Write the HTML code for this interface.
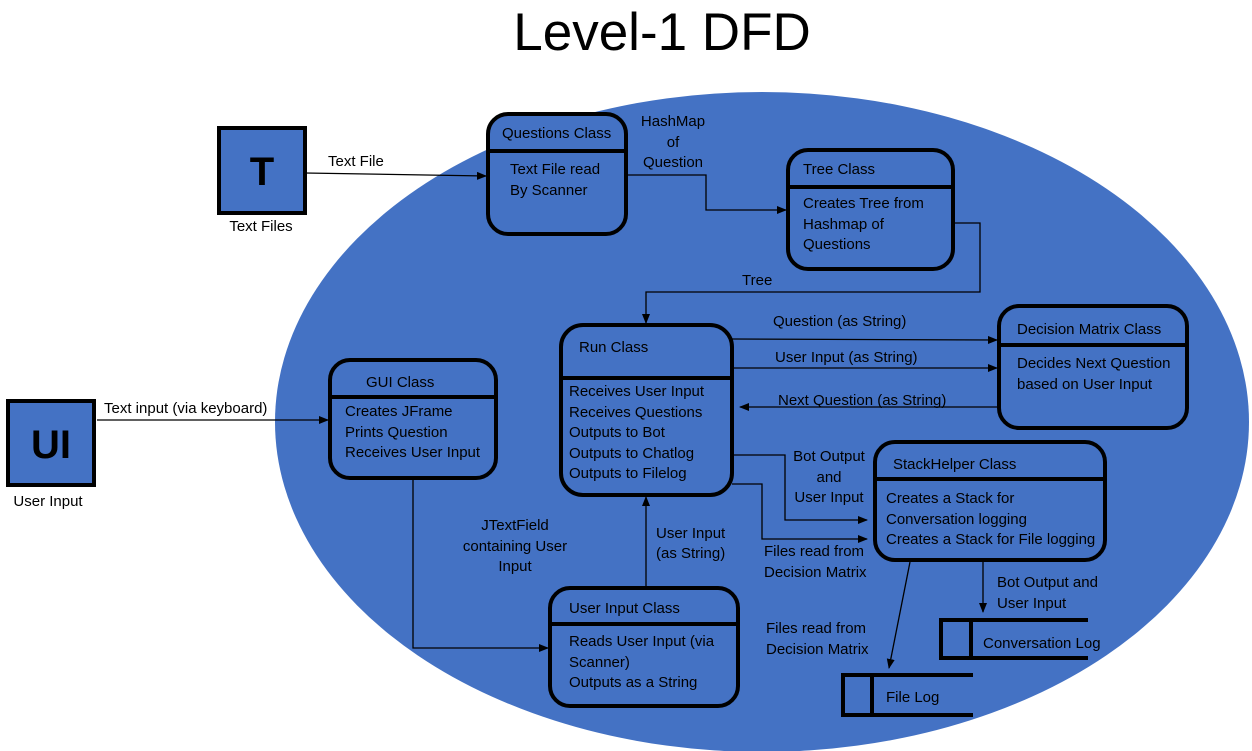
<!DOCTYPE html>
<html><head><style>body{margin:0;background:#fff}svg{display:block}text{font-family:"Liberation Sans",sans-serif;font-size:15px;fill:#000}</style></head><body>
<svg width="1252" height="751" viewBox="0 0 1252 751">
<defs><marker id="a" markerWidth="10" markerHeight="8" refX="9" refY="4" orient="auto" markerUnits="userSpaceOnUse"><path d="M0,0L10,4L0,8z" fill="#000"/></marker></defs>
<rect width="1252" height="751" fill="#fff"/>
<ellipse cx="762" cy="422" rx="487" ry="330" fill="#4472C4"/>
<text x="662" y="50" text-anchor="middle" style="font-size:53px;font-weight:300">Level-1 DFD</text>
<g stroke="#000" stroke-width="4" fill="#4472C4">
<rect x="219" y="128" width="86" height="85"/>
<rect x="8" y="401" width="86" height="84"/>
<rect x="488" y="114" width="138" height="120" rx="20"/>
<rect x="788" y="150" width="165" height="119" rx="20"/>
<rect x="561" y="325" width="171" height="170" rx="22"/>
<rect x="999" y="306" width="188" height="122" rx="20"/>
<rect x="330" y="360" width="166" height="118" rx="20"/>
<rect x="875" y="442" width="230" height="118" rx="20"/>
<rect x="550" y="588" width="188" height="118" rx="20"/>
<line x1="488" y1="151" x2="626" y2="151"/>
<line x1="788" y1="187" x2="953" y2="187"/>
<line x1="561" y1="378" x2="732" y2="378"/>
<line x1="999" y1="345" x2="1187" y2="345"/>
<line x1="330" y1="397" x2="496" y2="397"/>
<line x1="875" y1="479" x2="1105" y2="479"/>
<line x1="550" y1="624" x2="738" y2="624"/>
<path d="M1088,620H941V658H1088M971,620V658" fill="none"/>
<path d="M973,675H843V715H973M872,675V715" fill="none"/>
</g>
<text x="262" y="185" text-anchor="middle" style="font-size:40px;font-weight:bold">T</text>
<text x="51" y="458" text-anchor="middle" style="font-size:40px;font-weight:bold">UI</text>
<text x="261" y="231" text-anchor="middle">Text Files</text>
<text x="48" y="506" text-anchor="middle">User Input</text>
<g fill="none" stroke="#000" stroke-width="1.3" marker-end="url(#a)">
<path d="M305,173L486,176"/>
<path d="M97,420H328"/>
<path d="M626,175H706V210H786"/>
<path d="M953,223H980V292H646V323"/>
<path d="M732,339L997,340"/>
<path d="M732,368H997"/>
<path d="M997,407H740"/>
<path d="M732,455H785V520H867"/>
<path d="M732,484H762V539H867"/>
<path d="M983,560V612"/>
<path d="M910,562L889,668"/>
<path d="M413,478V648H548"/>
<path d="M646,588V497"/>
</g>
<text x="502" y="138">Questions Class</text>
<text x="510" y="174">Text File read</text><text x="510" y="195">By Scanner</text>
<text x="803" y="174">Tree Class</text>
<text x="803" y="208">Creates Tree from</text><text x="803" y="229">Hashmap of</text><text x="803" y="249">Questions</text>
<text x="579" y="352">Run Class</text>
<text x="569" y="396">Receives User Input</text><text x="569" y="417">Receives Questions</text><text x="569" y="437">Outputs to Bot</text><text x="569" y="458">Outputs to Chatlog</text><text x="569" y="478">Outputs to Filelog</text>
<text x="1017" y="334">Decision Matrix Class</text>
<text x="1017" y="368">Decides Next Question</text><text x="1017" y="389">based on User Input</text>
<text x="366" y="387">GUI Class</text>
<text x="345" y="416">Creates JFrame</text><text x="345" y="437">Prints Question</text><text x="345" y="457">Receives User Input</text>
<text x="893" y="469">StackHelper Class</text>
<text x="886" y="503">Creates a Stack for</text><text x="886" y="524">Conversation logging</text><text x="886" y="544">Creates a Stack for File logging</text>
<text x="569" y="613">User Input Class</text>
<text x="569" y="646">Reads User Input (via</text><text x="569" y="667">Scanner)</text><text x="569" y="687">Outputs as a String</text>
<text x="983" y="648">Conversation Log</text>
<text x="886" y="702">File Log</text>
<text x="328" y="166">Text File</text>
<text x="104" y="413">Text input (via keyboard)</text>
<g text-anchor="middle"><text x="673" y="126">HashMap</text><text x="673" y="147">of</text><text x="673" y="167">Question</text>
<text x="829" y="461">Bot Output</text><text x="829" y="482">and</text><text x="829" y="502">User Input</text>
<text x="515" y="530">JTextField</text><text x="515" y="551">containing User</text><text x="515" y="571">Input</text></g>
<text x="742" y="285">Tree</text>
<text x="773" y="326">Question (as String)</text>
<text x="775" y="362">User Input (as String)</text>
<text x="778" y="405">Next Question (as String)</text>
<text x="764" y="556">Files read from</text><text x="764" y="577">Decision Matrix</text>
<text x="997" y="587">Bot Output and</text><text x="997" y="608">User Input</text>
<text x="766" y="633">Files read from</text><text x="766" y="654">Decision Matrix</text>
<text x="656" y="538">User Input</text><text x="656" y="558">(as String)</text>
</svg>
</body></html>
